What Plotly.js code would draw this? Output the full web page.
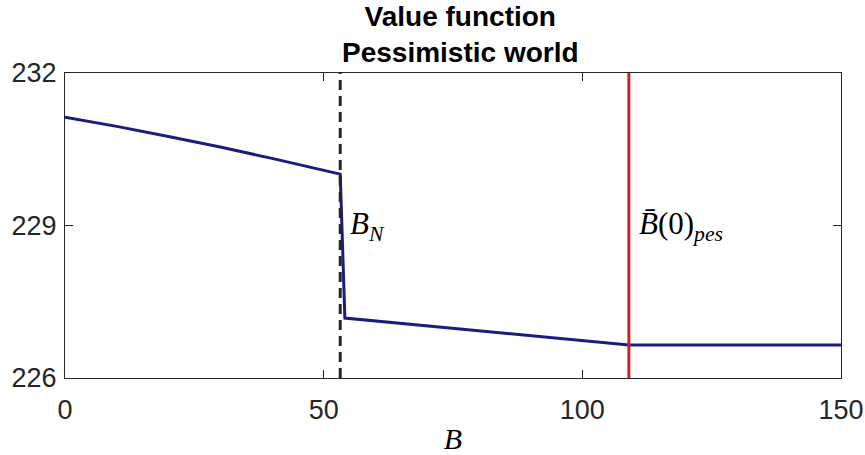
<!DOCTYPE html>
<html>
<head>
<meta charset="utf-8">
<script src="https://cdn.plot.ly/plotly-3.0.1.min.js"></script>
<style>
  html, body { margin: 0; padding: 0; background: #fff; }
  #plotArea { width: 865px; height: 455px; }
</style>
</head>
<body>
<div id="plotArea"></div>
<script>
// value function, pessimistic world
var debtLevels = [0, 10, 20, 30, 40, 50, 53.2, 54.1, 80, 109, 150];
var valueFn = [231.13, 230.95, 230.75, 230.545, 230.32, 230.08, 230.01, 227.18, 226.93, 226.65, 226.65];

var bN = 53.2;       // B_N threshold
var bBarPes = 109;   // B bar (0) pes

var xTicks = [0, 50, 100, 150];
var yTicks = [226, 229, 232];

var mathFont = "Liberation Serif, serif";
var axisColor = "#262626";

var valueTrace = {
    x: debtLevels,
    y: valueFn,
    type: "scatter",
    mode: "lines",
    line: {color: "#1c1c80", width: 3},
    hoverinfo: "skip"
};

var bNTrace = {
    x: [bN, bN],
    y: [226, 232],
    type: "scatter",
    mode: "lines",
    line: {color: "#262626", width: 3, dash: "10px,6px"},
    hoverinfo: "skip"
};

var bBarTrace = {
    x: [bBarPes, bBarPes],
    y: [226, 232],
    type: "scatter",
    mode: "lines",
    line: {color: "#cc2222", width: 3},
    hoverinfo: "skip"
};

var layout = {
    width: 865,
    height: 455,
    margin: {l: 65, r: 24, t: 73, b: 77},
    showlegend: false,
    paper_bgcolor: "#fff",
    plot_bgcolor: "#fff",
    font: {family: "Liberation Sans, Arial, sans-serif", color: axisColor},
    xaxis: {
        range: [0, 150],
        tickvals: xTicks,
        ticktext: xTicks.map(String),
        ticks: "inside",
        ticklen: 8,
        tickwidth: 1,
        tickcolor: axisColor,
        ticklabelstandoff: 8,
        showline: true,
        linecolor: axisColor,
        linewidth: 1,
        mirror: "allticks",
        showgrid: false,
        zeroline: false,
        tickfont: {size: 27, color: axisColor},
        title: {
            text: "<i>B</i>",
            font: {family: mathFont, size: 30, color: "#000"},
            standoff: 8
        }
    },
    yaxis: {
        range: [226, 232],
        tickvals: yTicks,
        ticktext: yTicks.map(String),
        ticks: "inside",
        ticklen: 8,
        tickwidth: 1,
        tickcolor: axisColor,
        ticklabelstandoff: 2,
        showline: true,
        linecolor: axisColor,
        linewidth: 1,
        mirror: "allticks",
        showgrid: false,
        zeroline: false,
        tickfont: {size: 27, color: axisColor}
    },
    annotations: [
        {
            x: 0.51, y: 1, xref: "paper", yref: "paper",
            xanchor: "center", yanchor: "bottom", yshift: 3,
            text: "<b>Value function<br>Pessimistic world</b>",
            showarrow: false,
            font: {size: 28, color: "#000"}
        },
        {
            x: bN, y: 229, xref: "x", yref: "y",
            xanchor: "left", yanchor: "middle", xshift: 8,
            text: "<i>B</i><sub><i>N</i></sub>",
            showarrow: false,
            font: {family: mathFont, size: 31, color: "#000"}
        },
        {
            x: bBarPes, y: 229, xref: "x", yref: "y",
            xanchor: "left", yanchor: "middle", xshift: 8,
            text: "<i>B\u0304</i>(0)<sub><i>pes</i></sub>",
            showarrow: false,
            font: {family: mathFont, size: 31, color: "#000"}
        }
    ]
};

Plotly.newPlot("plotArea", [valueTrace, bNTrace, bBarTrace], layout, {staticPlot: true});
</script>
</body>
</html>
